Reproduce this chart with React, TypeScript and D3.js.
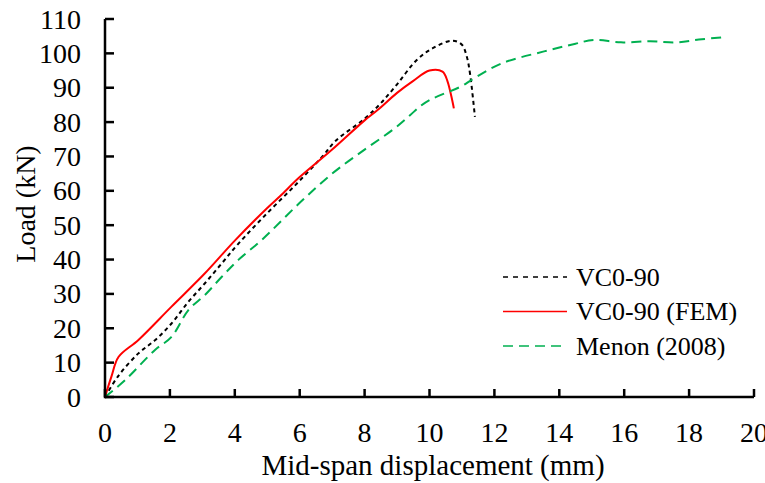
import React from 'react';
import * as d3 from 'd3';

type Pt = [number, number];

// [displacement (mm), load (kN)]
const vc090: Pt[] = [
  [0, 0], [0.4, 6], [1.03, 12.7], [1.55, 16.6], [2.05, 21.4], [2.57, 27.7], [3.08, 33.1],
  [3.6, 38.9], [4.1, 44.5], [5, 53.5], [5.9, 62], [6.7, 70], [7.1, 74.5], [8, 81],
  [8.5, 85.5], [9, 91], [9.6, 98], [10.1, 101.5], [10.7, 103.7], [11, 102.5],
  [11.15, 99], [11.25, 94], [11.4, 81.5],
];

const vc090Fem: Pt[] = [
  [0, 0], [0.2, 6], [0.42, 11.7], [1.03, 16.6], [2.05, 26.3], [3.08, 36], [4, 45.5],
  [5, 55], [5.4, 58.5], [6, 64], [7, 72], [8, 80.5], [8.4, 83.5], [9, 88.5], [9.5, 92],
  [10, 95], [10.4, 94.7], [10.55, 92], [10.75, 84],
];

const menon: Pt[] = [
  [0, 0], [0.62, 4.9], [1.54, 13.7], [2.05, 17.5], [2.57, 25.3], [3.08, 29.7],
  [3.6, 35], [4.11, 39.9], [4.83, 45.7], [6, 56.5], [7, 65], [8, 72], [8.9, 78],
  [9.4, 82], [9.7, 84.5], [10, 86.4], [11, 90.5], [11.3, 92.3], [12.2, 97],
  [13.5, 100.5], [14.5, 102.8], [15.05, 103.9], [15.9, 103.2], [16.8, 103.5],
  [17.6, 103.2], [18.3, 104], [19.05, 104.7],
];

const xTicks = [0, 2, 4, 6, 8, 10, 12, 14, 16, 18, 20];
const yTicks = [0, 10, 20, 30, 40, 50, 60, 70, 80, 90, 100, 110];

const series = [
  { name: 'VC0-90', data: vc090, color: '#000000', dash: '4,3.5', legendDash: '5,5' },
  { name: 'VC0-90 (FEM)', data: vc090Fem, color: '#FF0000', dash: '', legendDash: '' },
  { name: 'Menon (2008)', data: menon, color: '#00B050', dash: '10,6', legendDash: '10,6' },
];

const font = "'Liberation Serif', 'Times New Roman', serif";

export default function App() {
  const x = d3.scaleLinear().domain([0, 20]).range([105, 754]);
  const y = d3.scaleLinear().domain([0, 110]).range([397, 19]);

  const line = d3.line<Pt>()
    .x(d => x(d[0]))
    .y(d => y(d[1]))
    .curve(d3.curveCatmullRom.alpha(0.5));

  return (
    <svg width={765} height={483}
      style={{ position: 'absolute', left: 0, top: 0, background: '#fff', fontFamily: font }}>
      {/* curves */}
      {series.map(s => (
        <path key={s.name} d={line(s.data) || ''} fill="none" stroke={s.color}
          strokeWidth={2} strokeDasharray={s.dash || undefined} />
      ))}

      {/* axes */}
      <line x1={x(0)} x2={x(20)} y1={y(0)} y2={y(0)} stroke="#000" strokeWidth={2.5} />
      <line x1={x(0)} x2={x(0)} y1={y(0) + 1.25} y2={y(110)} stroke="#000" strokeWidth={2.5} />
      {xTicks.map(t => (
        <g key={'x' + t}>
          <line x1={x(t)} x2={x(t)} y1={y(0)} y2={y(0) - 8} stroke="#000" strokeWidth={2.5} />
          <text x={x(t)} y={442} textAnchor="middle" fontSize={28}>{t}</text>
        </g>
      ))}
      {yTicks.map(t => (
        <g key={'y' + t}>
          <line x1={x(0)} x2={x(0) + 9} y1={y(t)} y2={y(t)} stroke="#000" strokeWidth={2.5} />
          <text x={81} y={y(t)} dy="0.34em" textAnchor="end" fontSize={28}>{t}</text>
        </g>
      ))}

      <text x={433} y={475} textAnchor="middle" fontSize={29}>Mid-span displacement (mm)</text>
      <text transform="translate(35,204) rotate(-90)" textAnchor="middle" fontSize={28}>Load (kN)</text>

      {/* legend */}
      {series.map((s, i) => {
        const ly = 277 + i * 34.5;
        return (
          <g key={'lg' + s.name}>
            <line x1={503} x2={567} y1={ly} y2={ly} stroke={s.color} strokeWidth={1.5}
              strokeDasharray={s.legendDash || undefined} />
            <text x={576} y={ly} dy="0.34em" fontSize={26}>{s.name}</text>
          </g>
        );
      })}
    </svg>
  );
}
